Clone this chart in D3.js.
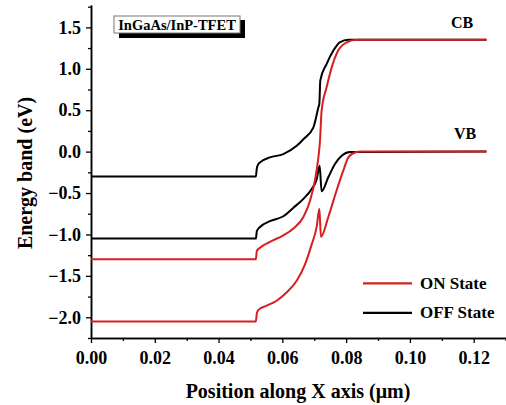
<!DOCTYPE html>
<html>
<head>
<meta charset="utf-8">
<script src="https://cdn.jsdelivr.net/npm/d3@7"></script>
<style>
    body { margin: 0; background: white; }
    text { font-family: "Liberation Serif", "Times New Roman", serif; font-weight: bold; }
</style>
</head>
<body>
<div id="plotRegi"></div>
<script>
/* Data */
// Band edges, [position (um), energy (eV)]
var on_CB = [[0, -1.3], [0.0517, -1.3], [0.052, -1.2], [0.053, -1.16], [0.0561, -1.09], [0.0603, -1.01],
    [0.0634, -0.93], [0.0666, -0.79], [0.0687, -0.59], [0.0702, -0.35], [0.0713, -0.07], [0.0718, 0.13],
    [0.0723, 0.49], [0.0739, 0.78], [0.0755, 1.02], [0.0775, 1.22], [0.0802, 1.32], [0.0833, 1.35], [0.124, 1.35]]
var on_VB = [[0, -2.05], [0.0517, -2.05], [0.052, -1.95], [0.0525, -1.91], [0.0551, -1.86], [0.0582, -1.8],
    [0.0613, -1.7], [0.0645, -1.56], [0.0671, -1.36], [0.0692, -1.12], [0.0708, -0.9], [0.0716, -0.69],
    [0.0721, -1.03], [0.0744, -0.79], [0.077, -0.47], [0.0791, -0.23], [0.0807, -0.07], [0.0828, -0.01],
    [0.0845, 0], [0.124, 0]]
var off_CB = [[0, -0.3], [0.0517, -0.3], [0.052, -0.2], [0.0525, -0.15], [0.053, -0.13], [0.0561, -0.07],
    [0.0603, -0.03], [0.0645, 0.07], [0.0666, 0.15], [0.0697, 0.29], [0.0713, 0.535], [0.0716, 0.58],
    [0.0719, 0.86], [0.0739, 1.06], [0.076, 1.22], [0.078, 1.32], [0.0807, 1.35], [0.124, 1.35]]
var off_VB = [[0, -1.05], [0.0517, -1.05], [0.052, -0.96], [0.053, -0.91], [0.0561, -0.84], [0.0603, -0.78],
    [0.0634, -0.68], [0.0666, -0.57], [0.0692, -0.45], [0.0708, -0.33], [0.0717, -0.17], [0.0723, -0.48],
    [0.0744, -0.31], [0.0765, -0.15], [0.0786, -0.05], [0.0812, -0.005], [0.124, 0]]

var ticks_x = [0, 0.02, 0.04, 0.06, 0.08, 0.10, 0.12]
var ticks_y = [-2.0, -1.5, -1.0, -0.5, 0.0, 0.5, 1.0, 1.5]
var minor_x = [0.01, 0.03, 0.05, 0.07, 0.09, 0.11, 0.13]
var minor_y = [-2.25, -1.75, -1.25, -0.75, -0.25, 0.25, 0.75, 1.25, 1.75]

var states = ["ON State", "OFF State"]
var colors = { "ON State": "#d81e1e", "OFF State": "#000000" }


/* Drawing */
var width = 506, height = 405

var scale_x = d3.scaleLinear().domain([0, 0.13]).range([91, 505.6])
var scale_y = d3.scaleLinear().domain([-2.25, 1.77]).range([338, 5])

var svg = d3
    .select("#plotRegi")
    .append("svg")
    .attr("width", width)
    .attr("height", height)

// Axes
var axisX = svg.append("g")
    .attr("transform", "translate(0," + scale_y(-2.25) + ")")
    .call(d3.axisBottom(scale_x).tickValues(ticks_x).tickSize(5).tickSizeOuter(0).tickFormat(d3.format(".2f")))
axisX.append("g")
    .call(d3.axisBottom(scale_x).tickValues(minor_x).tickSize(3).tickSizeOuter(0).tickFormat(""))

var axisY = svg.append("g")
    .attr("transform", "translate(" + scale_x(0) + ",0)")
    .call(d3.axisLeft(scale_y).tickValues(ticks_y).tickSize(5).tickSizeOuter(0).tickFormat(d3.format(".1f")))
axisY.append("g")
    .call(d3.axisLeft(scale_y).tickValues(minor_y).tickSize(3).tickSizeOuter(0).tickFormat(""))

svg.selectAll(".domain").style("stroke", "#000").style("stroke-width", "1.5px")
svg.selectAll(".tick line").style("stroke", "#000").style("stroke-width", "1.3px")
svg.selectAll(".tick text")
    .style("font-family", "'Liberation Serif', serif")
    .style("font-weight", "bold")
    .style("font-size", "18px")
    .style("fill", "#000")
axisX.selectAll(".tick text").attr("dy", "1.0em")
axisY.selectAll(".tick text").attr("x", -10)

// Axis titles
svg.append("text")
    .attr("x", 298)
    .attr("y", 398)
    .attr("text-anchor", "middle")
    .style("font-size", "20px")
    .text("Position along X axis (\u03bcm)")

svg.append("text")
    .attr("transform", "translate(32,173) rotate(-90)")
    .attr("text-anchor", "middle")
    .style("font-size", "20px")
    .text("Energy band (eV)")

// Curves
var line = d3.line()
    .x(d => scale_x(d[0]))
    .y(d => scale_y(d[1]))
    .curve(d3.curveMonotoneX)

var curves = [
    { state: "OFF State", data: off_CB },
    { state: "OFF State", data: off_VB },
    { state: "ON State", data: on_CB },
    { state: "ON State", data: on_VB }
]

svg.append("g")
    .selectAll("path")
    .data(curves)
    .enter()
    .append("path")
    .attr("d", d => line(d.data))
    .style("fill", "none")
    .style("stroke", d => colors[d.state])
    .style("stroke-width", "2px")

// Band labels
svg.append("text").attr("x", 462).attr("y", 28).attr("text-anchor", "middle").style("font-size", "16px").text("CB")
svg.append("text").attr("x", 465).attr("y", 139).attr("text-anchor", "middle").style("font-size", "16px").text("VB")

// Title box with shadow
svg.append("rect").attr("x", 119).attr("y", 20).attr("width", 126).attr("height", 18).style("fill", "#000")
svg.append("rect").attr("x", 114).attr("y", 16).attr("width", 126).attr("height", 17)
    .style("fill", "#fff").style("stroke", "#777").style("stroke-width", "1px")
svg.append("text").attr("x", 177).attr("y", 29.5).attr("text-anchor", "middle").style("font-size", "14.5px")
    .text("InGaAs/InP-TFET")

// Legend
var legend = svg.append("g")
    .selectAll("g")
    .data(states)
    .enter()
    .append("g")
    .attr("transform", (d, i) => "translate(0," + (283.3 + i * 29.5) + ")")

legend.append("line")
    .attr("x1", 363).attr("x2", 412)
    .style("stroke", d => colors[d])
    .style("stroke-width", "2.2px")

legend.append("text")
    .attr("x", 420)
    .attr("y", 5.5)
    .style("font-size", "17px")
    .text(d => d)
</script>
</body>
</html>
